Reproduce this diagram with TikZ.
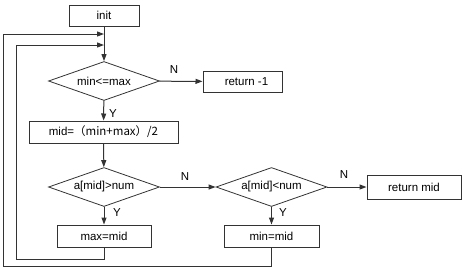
\documentclass[tikz,border=0pt]{standalone}
\usepackage{fontspec}
\setmainfont{Liberation Sans}
\newfontfamily\cjk{Noto Sans CJK SC}
\usetikzlibrary{shapes.geometric,arrows.meta}
\begin{document}
\begin{tikzpicture}[x=1pt,y=-1pt,
  every node/.style={font=\fontsize{11.5}{13}\selectfont},
  ln/.style={draw=black!80,line width=1pt},
  arr/.style={ln,-{Triangle[length=7pt,width=5pt]}},
  boxn/.style={draw=black!80,line width=1pt,rectangle,inner sep=0pt},
  dia/.style={draw=black!80,line width=0.8pt,diamond,aspect=2.85,inner sep=0pt,minimum width=111pt,minimum height=39pt},
  lab/.style={inner sep=0pt}]
\useasboundingbox (0,0) rectangle (465,269);
\node[boxn,minimum width=70pt,minimum height=21pt] (init) at (104,15.5) {init};
\node[dia] (d1) at (104,81) {min<=max};
\node[boxn,minimum width=79pt,minimum height=21pt] (r1) at (242.5,81.5) {\hspace*{8pt}return -1};
\node[boxn,minimum width=149pt,minimum height=22pt] (mid) at (103.5,132) {mid=\cjk{（}min+max\cjk{）}/2};
\node[dia] (d2) at (104,187) {a[mid]>num};
\node[dia] (d3) at (271.5,187) {a[mid]<num};
\node[boxn,minimum width=94pt,minimum height=24pt] (rm) at (414,187) {return mid};
\node[boxn,minimum width=94pt,minimum height=22pt] (mx) at (104,236) {max=mid};
\node[boxn,minimum width=95pt,minimum height=22pt] (mn) at (271.5,236) {min=mid};
\coordinate (j1) at (104,34);
\coordinate (j2) at (104,45);
\coordinate (c1) at (3,266);
\coordinate (c2) at (16,259);
\draw[arr] (init) -- (d1);
\draw[arr] (d1) -- (r1);
\draw[arr] (d1) -- (mid);
\draw[arr] (mid) -- (d2);
\draw[arr] (d2) -- (d3);
\draw[arr] (d3) -- (rm);
\draw[arr] (d2) -- (mx);
\draw[arr] (d3) -- (mn);
\draw[arr] (mn.south) |- (c1) |- (j1);
\draw[arr] (mx.south) |- (c2) |- (j2);
\node[lab] (n1) at (174,70) {N};
\node[lab] (y1) at (113,114) {Y};
\node[lab] (n2) at (185,177) {N};
\node[lab] (y2) at (117,213) {Y};
\node[lab] (n3) at (344,175) {N};
\node[lab] (y3) at (283,213) {Y};
\end{tikzpicture}
\end{document}
